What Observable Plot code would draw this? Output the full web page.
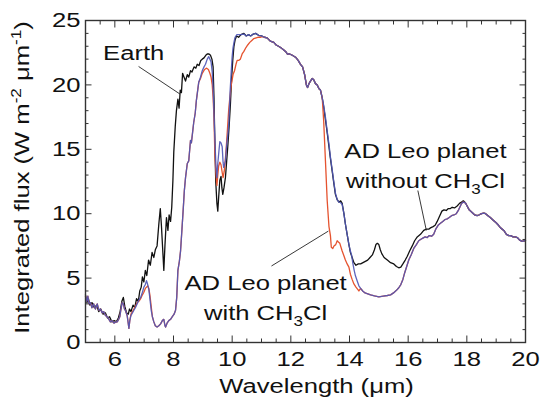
<!DOCTYPE html>
<html><head><meta charset="utf-8">
<script src="https://cdn.jsdelivr.net/npm/d3@7"></script>
<script src="https://cdn.jsdelivr.net/npm/@observablehq/plot@0.6"></script>
<style>
html,body{margin:0;padding:0;background:#fff;}
#chart{width:543px;height:411px;}
</style></head><body><div id="chart"></div>
<script>
// ---------- data ----------
// Earth, 5 - 10.4 um
const earthAWave = [5.00,5.05,5.10,5.15,5.22,5.30,5.38,5.45,5.52,5.60,5.68,5.75,5.82,5.90,5.98,6.05,6.12,6.18,6.24,6.29,6.34,6.40,6.46,6.50,6.55,6.62,6.68,6.74,6.80,6.85,6.90,6.94,6.99,7.04,7.09,7.15,7.21,7.27,7.33,7.38,7.44,7.50,7.55,7.59,7.63,7.67,7.71,7.76,7.81,7.85,7.90,7.94,7.98,8.01,8.06,8.10,8.15,8.19,8.23,8.27,8.31,8.36,8.41,8.47,8.52,8.58,8.63,8.70,8.76,8.81,8.87,8.93,8.98,9.04,9.10,9.15,9.21,9.26,9.31,9.35,9.38,9.41,9.44,9.48,9.51,9.54,9.58,9.62,9.65,9.68,9.72,9.77,9.81,9.85,9.90,9.94,9.98,10.02,10.06,10.10,10.15,10.22,10.30,10.40];
const earthAFlux = [3.7,3.1,3.4,2.9,3.1,2.7,2.9,2.4,2.6,2.2,2.3,1.9,2.0,1.6,1.7,1.6,1.9,2.4,3.2,3.5,2.8,2.3,2.2,2.6,2.4,2.9,2.7,3.4,3.2,4.0,4.3,5.1,4.7,5.6,5.2,6.4,6.0,7.0,6.6,7.2,7.5,9.2,10.4,9.0,7.3,5.6,7.6,9.7,8.7,9.9,9.4,10.5,12.6,14.8,16.8,18.0,18.9,18.2,19.6,19.4,20.9,20.6,20.3,20.8,20.6,21.1,21.0,21.4,21.3,21.6,21.5,21.9,22.0,22.1,22.3,22.4,22.4,22.3,22.0,21.4,19.0,15.5,12.5,10.8,10.2,11.3,12.6,12.9,12.0,11.5,12.0,12.8,14.0,15.2,16.9,18.5,20.5,21.9,23.0,23.5,23.8,23.7,23.9,24.0];
// Earth, 13.1 - 17.9 um
const earthBWave = [13.12,13.18,13.24,13.30,13.35,13.41,13.47,13.52,13.58,13.64,13.70,13.75,13.81,13.86,13.92,13.98,14.03,14.09,14.15,14.22,14.30,14.38,14.46,14.54,14.62,14.70,14.78,14.85,14.90,14.95,15.00,15.05,15.10,15.18,15.29,15.40,15.51,15.60,15.68,15.75,15.82,15.90,15.97,16.05,16.14,16.22,16.31,16.42,16.53,16.62,16.70,16.76,16.85,16.92,16.99,17.07,17.15,17.22,17.30,17.37,17.44,17.50,17.58,17.67,17.75,17.82,17.88];
const earthBFlux = [18.3,17.3,16.3,15.2,14.3,13.3,12.3,11.5,11.1,10.9,11.0,10.8,10.0,9.2,8.4,7.6,7.0,6.6,6.2,6.0,6.1,6.1,6.2,6.3,6.4,6.6,6.8,7.2,7.6,7.7,7.6,7.2,6.9,6.6,6.4,6.2,6.1,5.9,5.8,5.85,6.1,6.4,6.7,7.1,7.5,7.9,8.2,8.4,8.7,8.8,8.8,8.9,9.0,9.1,9.4,9.8,10.2,10.3,10.25,10.4,10.4,10.5,10.45,10.6,10.8,10.9,11.0];

// shared by all three spectra
const plateauWave = [10.48,10.56,10.63,10.72,10.80,10.90,11.00,11.10,11.19,11.30,11.42,11.50,11.58,11.65,11.74,11.82,11.88,11.96,12.05,12.16,12.25,12.33,12.40,12.47,12.53,12.57,12.62,12.67,12.73,12.78,12.84,12.90,12.96,13.01,13.07];
const plateauFlux = [23.8,23.9,23.8,23.95,24.0,23.85,23.8,23.7,23.65,23.4,23.3,23.1,23.0,22.9,22.75,22.6,22.4,22.4,22.3,22.15,21.9,21.6,21.4,20.8,20.0,19.8,20.1,20.3,20.5,20.4,20.1,20.0,19.7,19.6,19.0];
const tailWave = [17.95,18.01,18.08,18.18,18.27,18.35,18.41,18.50,18.58,18.64,18.72,18.80,18.90,19.00,19.08,19.15,19.26,19.35,19.43,19.49,19.58,19.65,19.72,19.80,19.89,19.95,20.00];
const tailFlux = [10.85,10.6,10.3,10.1,9.9,9.85,9.9,10.0,10.05,10.0,9.85,9.7,9.5,9.3,9.1,8.9,8.7,8.4,8.3,8.3,8.2,8.2,8.15,7.95,7.85,7.9,7.9];

// shared by both AD Leo planet spectra
const adLowWave = [5.00,5.04,5.08,5.12,5.17,5.22,5.28,5.34,5.40,5.46,5.51,5.57,5.62,5.68,5.74,5.80,5.85,5.91,5.97,6.03,6.08,6.13,6.17,6.21,6.25,6.29,6.33,6.36,6.42,6.45,6.48,6.51];
const adLowFlux = [3.6,3.2,3.6,3.0,3.1,2.7,3.0,2.6,3.0,2.5,2.6,2.3,2.4,2.1,2.0,1.8,1.6,1.7,1.5,1.6,1.6,1.8,2.0,2.6,3.1,3.0,2.6,2.5,2.1,1.6,1.1,1.7];
const adMidWave = [7.28,7.33,7.38,7.44,7.50,7.56,7.62,7.67,7.71,7.73,7.78,7.84,7.90,7.96,8.02,8.07,8.11,8.15,8.20,8.24,8.28,8.33,8.37,8.41,8.47,8.52,8.58,8.61,8.65,8.69,8.74,8.78,8.82,8.86];
const adMidFlux = [2.0,1.6,1.3,1.2,1.3,1.45,1.7,1.8,1.3,1.2,1.5,1.7,1.8,2.0,2.2,2.5,3.5,5.6,6.3,7.1,8.5,10.3,11.8,12.8,13.9,14.1,15.7,15.5,16.3,17.1,17.8,18.8,19.5,20.2];
const adTroughWave = [14.38,14.45,14.53,14.60,14.72,14.85,15.00,15.15,15.29,15.40,15.50,15.60,15.68,15.75,15.82,15.88,15.95,16.02,16.10,16.19,16.28,16.36,16.42,16.50,16.58,16.65,16.72,16.80,16.87,16.94,17.02,17.10,17.18,17.26,17.33,17.40,17.48,17.56,17.64,17.72,17.80,17.86];
const adTroughFlux = [4.2,4.0,3.85,3.8,3.7,3.62,3.55,3.6,3.65,3.7,3.85,4.05,4.25,4.5,4.9,5.4,5.9,6.4,6.8,7.3,7.6,7.9,8.0,8.1,8.2,8.15,8.3,8.25,8.4,8.8,9.1,9.25,9.4,9.55,9.6,9.7,9.85,9.9,10.0,10.3,10.7,10.9];

// AD Leo planet without CH3Cl (own parts)
const noClAWave = [6.55,6.60,6.65,6.70,6.76,6.82,6.88,6.94,6.99,7.04,7.08,7.12,7.16,7.20,7.24];
const noClAFlux = [2.1,2.3,2.5,2.7,3.0,3.3,3.5,3.9,4.3,4.5,4.8,4.5,4.1,3.3,2.5];
const noClBWave = [8.92,8.98,9.04,9.09,9.15,9.20,9.24,9.28,9.32,9.35,9.38,9.42,9.45,9.48,9.51,9.55,9.58,9.62,9.66,9.69,9.71,9.74,9.77,9.82,9.86,9.89,9.93,9.97,10.00,10.03,10.07,10.10,10.16,10.23,10.30,10.40];
const noClBFlux = [20.6,21.1,21.4,21.6,22.0,22.2,22.0,21.8,21.0,19.8,17.8,15.2,13.6,12.8,13.9,14.9,15.6,15.5,15.2,14.0,13.6,13.8,14.1,15.5,16.3,17.2,19.5,21.1,22.2,22.9,23.4,23.7,23.9,23.9,23.9,23.95];
const noClCWave = [13.12,13.18,13.24,13.30,13.35,13.41,13.47,13.52,13.58,13.64,13.70,13.75,13.81,13.86,13.92,13.98,14.03,14.07,14.11,14.16,14.20,14.26,14.32];
const noClCFlux = [18.4,17.5,16.4,15.4,14.4,13.4,12.4,11.6,11.1,10.9,10.85,10.7,10.0,9.2,8.4,7.6,7.1,6.8,6.2,5.6,5.2,4.8,4.4];

// AD Leo planet with CH3Cl (own parts)
const withClAWave = [6.55,6.60,6.65,6.70,6.76,6.82,6.88,6.94,6.99,7.04,7.08,7.12,7.16,7.20,7.24];
const withClAFlux = [2.2,2.4,2.6,2.8,3.1,3.2,3.4,3.7,3.9,4.2,4.3,4.4,4.2,3.6,2.8];
const withClBWave = [8.92,8.98,9.06,9.12,9.19,9.24,9.28,9.32,9.35,9.38,9.41,9.45,9.48,9.51,9.54,9.58,9.62,9.66,9.69,9.73,9.76,9.80,9.84,9.88,9.92,9.97,10.03,10.08,10.13,10.17,10.22,10.28,10.34,10.40,10.47,10.53,10.60,10.67,10.74,10.82,10.90,10.97,11.05,11.10];
const withClBFlux = [20.5,20.9,21.2,21.3,21.2,20.9,20.6,20.0,19.0,17.5,14.6,13.0,12.2,13.0,13.7,14.0,13.8,13.2,12.8,13.3,14.0,15.2,16.6,18.0,19.0,20.0,20.8,21.1,21.6,21.9,21.9,22.0,22.4,22.6,22.9,23.1,23.3,23.45,23.6,23.65,23.7,23.7,23.75,23.7];
const withClCWave = [13.12,13.18,13.24,13.30,13.35,13.38,13.43,13.47,13.53,13.58,13.62,13.67,13.71,13.75,13.80,13.86,13.92,13.98,14.03,14.09,14.15,14.22,14.32];
const withClCFlux = [17.2,14.1,11.0,9.0,8.3,7.4,7.3,7.5,7.6,7.9,7.8,7.7,7.4,7.1,6.8,6.4,6.1,5.85,5.3,4.9,4.55,4.3,4.0];

// axes
const xMajorTicks = [6, 8, 10, 12, 14, 16, 18, 20];
const xMinorTicks = [5.5,6.5,7,7.5,8.5,9,9.5,10.5,11,11.5,12.5,13,13.5,14.5,15,15.5,16.5,17,17.5,18.5,19,19.5];
const yMajorTicks = [0, 5, 10, 15, 20, 25];
const yMinorTicks = [1,2,3,4,6,7,8,9,11,12,13,14,16,17,18,19,21,22,23,24];
const xTitle = "Wavelength (μm)";
const yTitle = "Integrated flux (W m⁻² μm⁻¹)";

// annotations
const earthLabel = ["Earth"];
const earthLabelWave = [5.60];
const earthLabelFlux = [22.48];
const leoLabels = ["AD Leo planet\nwithout CH₃Cl", "AD Leo planet\nwith CH₃Cl"];
const leoLabelWave = [16.59, 11.14];
const leoLabelFlux = [13.9, 3.68];
const leaderWave1 = [6.81, 16.33, 11.34];
const leaderFlux1 = [21.43, 11.8, 5.94];
const leaderWave2 = [8.22, 16.62, 13.28];
const leaderFlux2 = [19.29, 8.7, 8.65];

// ---------- build tables ----------
const seg = (w, f) => w.map((x, i) => ({w: x, f: f[i]})).filter(d => d.f != null);
function join(...parts) {
  const out = [];
  for (const p of parts) for (const d of p) if (!out.length || d.w > out[out.length - 1].w) out.push(d);
  return out;
}
const plateau = seg(plateauWave, plateauFlux), tail = seg(tailWave, tailFlux);
const adLow = seg(adLowWave, adLowFlux), adMid = seg(adMidWave, adMidFlux), adTrough = seg(adTroughWave, adTroughFlux);
const earth = join(seg(earthAWave, earthAFlux), plateau, seg(earthBWave, earthBFlux), tail);
const noCl = join(adLow, seg(noClAWave, noClAFlux), adMid, seg(noClBWave, noClBFlux), plateau, seg(noClCWave, noClCFlux), adTrough, tail);
const withCl = join(adLow, seg(withClAWave, withClAFlux), adMid, seg(withClBWave, withClBFlux), plateau, seg(withClCWave, withClCFlux), adTrough, tail);
const earthText = earthLabel.map((t, i) => ({t, w: earthLabelWave[i], f: earthLabelFlux[i]}));
const leoText = leoLabels.map((t, i) => ({t, w: leoLabelWave[i], f: leoLabelFlux[i]}));
const leaders = leaderWave1.map((w, i) => ({w1: w, f1: leaderFlux1[i], w2: leaderWave2[i], f2: leaderFlux2[i]}));

const AX = "#333";
const chart = Plot.plot({
  width: 543, height: 411,
  marginLeft: 85, marginRight: 18, marginTop: 20, marginBottom: 69,
  style: {fontFamily: "'Liberation Sans', Arial, Helvetica, sans-serif", fontSize: "21px", color: "#111", background: "#fff"},
  x: {domain: [5, 20]},
  y: {domain: [0, 25]},
  marks: [
    Plot.line(earth, {x: "w", y: "f", stroke: "#111", strokeWidth: 1.3}),
    Plot.line(withCl, {x: "w", y: "f", stroke: "#e5532f", strokeWidth: 1.3}),
    Plot.line(noCl, {x: "w", y: "f", stroke: "#4f57b6", strokeWidth: 1.3, strokeOpacity: 0.92}),
    Plot.link(leaders, {x1: "w1", y1: "f1", x2: "w2", y2: "f2", stroke: "#222", strokeWidth: 0.9}),
    Plot.text(earthText, {x: "w", y: "f", text: "t", textAnchor: "start", lineAnchor: "middle", fill: "#111"}),
    Plot.text(leoText, {x: "w", y: "f", text: "t", textAnchor: "middle", lineAnchor: "middle", lineHeight: 1.43, fill: "#111"}),
    // inward ticks
    Plot.axisX({ticks: xMinorTicks, anchor: "bottom", tickSize: -3.5, fill: "none", stroke: AX, label: null}),
    Plot.axisX({ticks: xMajorTicks, anchor: "bottom", tickSize: -6.5, fill: "none", stroke: AX, label: null}),
    Plot.axisX({ticks: xMinorTicks, anchor: "top", tickSize: -3.5, fill: "none", stroke: AX, label: null}),
    Plot.axisX({ticks: xMajorTicks, anchor: "top", tickSize: -6.5, fill: "none", stroke: AX, label: null}),
    Plot.axisY({ticks: yMinorTicks, anchor: "left", tickSize: -3.5, fill: "none", stroke: AX, label: null}),
    Plot.axisY({ticks: yMajorTicks, anchor: "left", tickSize: -6.5, fill: "none", stroke: AX, label: null}),
    Plot.axisY({ticks: yMinorTicks, anchor: "right", tickSize: -3.5, fill: "none", stroke: AX, label: null}),
    Plot.axisY({ticks: yMajorTicks, anchor: "right", tickSize: -6.5, fill: "none", stroke: AX, label: null}),
    // tick labels
    Plot.axisX({ticks: xMajorTicks, anchor: "bottom", tickSize: 0, tickPadding: 9, stroke: "none", fill: "#111", label: null}),
    Plot.axisY({ticks: yMajorTicks, anchor: "left", tickSize: 0, tickPadding: 5, stroke: "none", fill: "#111", label: null}),
    // titles
    Plot.text([xTitle], {text: d => d, frameAnchor: "bottom", textAnchor: "middle", lineAnchor: "middle", dy: 44, dx: 11, fill: "#111"}),
    Plot.text([yTitle], {text: d => d, frameAnchor: "left", textAnchor: "middle", rotate: -90, lineAnchor: "middle", dx: -63, dy: -4, fill: "#111"}),
    Plot.frame({stroke: AX, strokeWidth: 1.4})
  ]
});

// ---------- text post-processing: sub/superscripts and wide lettering ----------
const NS = "http://www.w3.org/2000/svg";
const SUB = {"₃": "3"}, SUP = {"⁻": "-", "²": "2", "¹": "1"};
chart.querySelectorAll("text, tspan").forEach(el => {
  if (el.children.length) return;
  const s = el.textContent;
  if (!/[₃⁻²¹]/.test(s)) return;
  const runs = [];
  for (const ch of s) {
    const m = SUB[ch] ? "sub" : SUP[ch] ? "sup" : "n";
    const c = SUB[ch] || SUP[ch] || ch;
    if (runs.length && runs[runs.length - 1].m === m) runs[runs.length - 1].t += c;
    else runs.push({m, t: c});
  }
  el.textContent = "";
  let cur = 0;
  for (const r of runs) {
    const ts = document.createElementNS(NS, "tspan");
    const target = r.m === "sub" ? 6 : r.m === "sup" ? -8 : 0;
    if (target !== cur) ts.setAttribute("dy", target - cur);
    cur = target;
    if (r.m !== "n") ts.setAttribute("font-size", "14");
    ts.textContent = r.t;
    el.appendChild(ts);
  }
});
const STRETCH = 1.22;
chart.querySelectorAll("text").forEach(t => {
  const tr = t.getAttribute("transform");
  if (tr) t.setAttribute("transform", tr + ` scale(${STRETCH},1)`);
  else {
    const x = +t.getAttribute("x") || 0, y = +t.getAttribute("y") || 0;
    t.removeAttribute("x"); t.removeAttribute("y");
    t.setAttribute("transform", `translate(${x},${y}) scale(${STRETCH},1)`);
  }
});
document.getElementById("chart").appendChild(chart);
</script></body></html>
